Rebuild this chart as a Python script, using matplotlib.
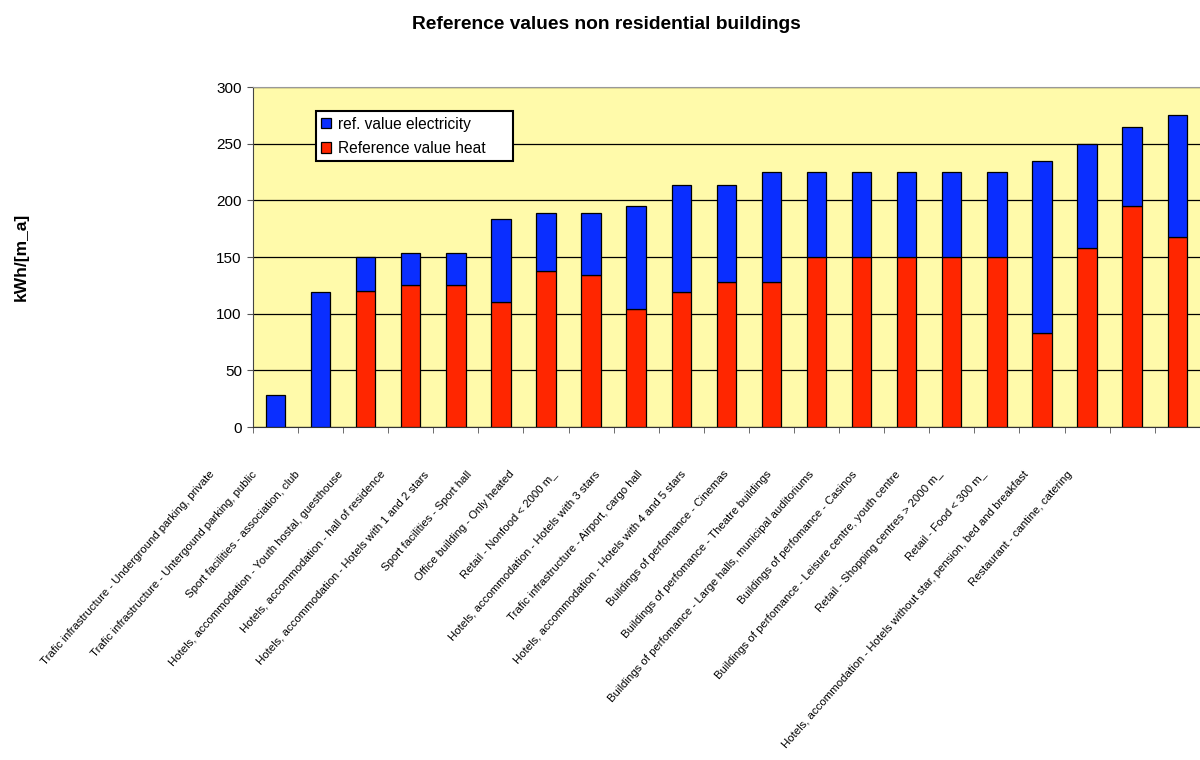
import numpy as np
import matplotlib.pyplot as plt
from matplotlib.transforms import ScaledTranslation

plt.rcParams["font.family"] = ["Liberation Sans", "DejaVu Sans"]

categories = [
    "Trafic infrastructure - Underground parking, private",
    "Trafic infrastructure - Untergound parking, public",
    "Sport facilities - association, club",
    "Hotels, accommodation - Youth hostal, guesthouse",
    "Hotels, accommodation - hall of residence",
    "Hotels, accommodation - Hotels with 1 and 2 stars",
    "Sport facilities - Sport hall",
    "Office building - Only heated",
    "Retail - Nonfood < 2000 m_",
    "Hotels, accommodation - Hotels with 3 stars",
    "Trafic infrastructure - Airport, cargo hall",
    "Hotels, accommodation - Hotels with 4 and 5 stars",
    "Buildings of perfomance - Cinemas",
    "Buildings of perfomance - Theatre buildings",
    "Buildings of perfomance - Large halls, municipal auditoriums",
    "Buildings of perfomance - Casinos",
    "Buildings of perfomance - Leisure centre, youth centre",
    "Retail - Shopping centres > 2000 m_",
    "Retail - Food < 300 m_",
    "Hotels, accommodation - Hotels without star, pension, bed and breakfast",
    "Restaurant - cantine, catering",
]
heat = [0, 0, 120, 125, 125, 110, 138, 134, 104, 119, 128, 128, 150, 150, 150, 150, 150, 83, 158, 195, 168]
electricity = [28, 119, 30, 29, 29, 74, 51, 55, 91, 95, 86, 97, 75, 75, 75, 75, 75, 152, 92, 70, 107]

YELLOW = "#FFFAAA"
BLUE = "#0A2EFF"
RED = "#FF2600"

fig = plt.figure(figsize=(12, 7.6), dpi=100)
ax = fig.add_axes([0.2108, 0.438, 0.789, 0.4475])
ax.set_facecolor(YELLOW)

x = np.arange(len(categories))
ax.bar(x, heat, width=0.43, color=RED, edgecolor="black", linewidth=0.9,
       label="Reference value heat", zorder=3)
ax.bar(x, electricity, width=0.43, bottom=heat, color=BLUE, edgecolor="black",
       linewidth=0.9, label="ref. value electricity", zorder=3)

ax.set_xlim(-0.5, len(categories) - 0.5)
ax.set_ylim(0, 300)
ax.set_yticks(np.arange(0, 301, 50))
ax.yaxis.grid(True, color="black", linewidth=0.9, zorder=1)
ax.set_axisbelow(True)
ax.tick_params(axis="y", labelsize=11, length=4, color="#555555", pad=4)

# category labels in the middle, tick marks on the boundaries
ax.set_xticks(x)
ax.set_xticks(np.arange(-0.5, len(categories), 1.0), minor=True)
ax.tick_params(axis="x", which="major", length=0)
ax.tick_params(axis="x", which="minor", length=4, color="#555555")
ax.set_xticklabels(categories, rotation=48.5, ha="right", va="top",
                   rotation_mode="anchor", fontsize=8.2)
for i, lab in enumerate(ax.get_xticklabels()):
    dx = -(67 + 2.2 * i) / 100
    lab.set_transform(lab.get_transform() + ScaledTranslation(dx, -0.37, fig.dpi_scale_trans))

ax.spines["right"].set_visible(False)
ax.spines["top"].set_color("#999999")
ax.spines["left"].set_color("#444444")
ax.spines["bottom"].set_color("#333333")

handles, labels = ax.get_legend_handles_labels()
leg = ax.legend(handles[::-1], labels[::-1], loc="upper left",
                bbox_to_anchor=(0.0665, 0.776, 0.208, 0.153), mode="expand",
                borderaxespad=0, fontsize=11.2, handlelength=0.65, handleheight=0.65,
                handletextpad=0.45, borderpad=0.35, labelspacing=0.6,
                fancybox=False, framealpha=1)
leg.get_frame().set_edgecolor("black")
leg.get_frame().set_linewidth(1.5)

fig.text(0.505, 0.968, "Reference values non residential buildings",
         ha="center", va="center", fontsize=13.8, fontweight="bold")
fig.text(0.0175, 0.662, "kWh/[m_a]", ha="center", va="center", rotation=90,
         fontsize=12.5, fontweight="bold")

fig.savefig("out.png", dpi=100)
